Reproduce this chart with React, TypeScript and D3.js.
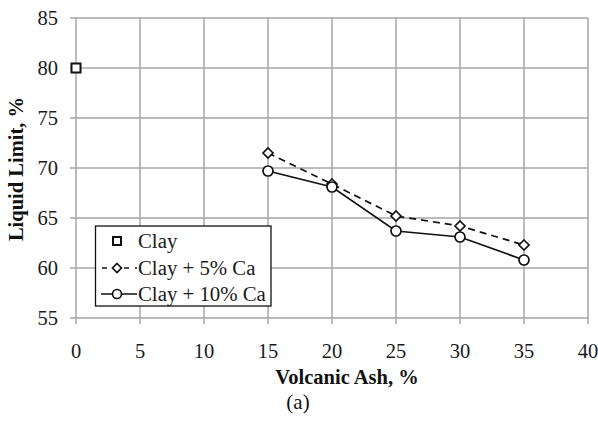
import React from "react";
import * as d3 from "d3";

const clayX = [0];
const clayY = [80];
const ash = [15, 20, 25, 30, 35];
const ca5 = [71.5, 68.4, 65.2, 64.2, 62.3];
const ca10 = [69.7, 68.1, 63.7, 63.1, 60.8];
const xTicks = [0, 5, 10, 15, 20, 25, 30, 35, 40];
const yTicks = [55, 60, 65, 70, 75, 80, 85];
const legendLabels = ["Clay", "Clay + 5% Ca", "Clay + 10% Ca"];

const W = 598, H = 424;
const FONT = "Liberation Serif";

export default function App() {
  const x = d3.scaleLinear().domain([0, 40]).range([76, 588]);
  const y = d3.scaleLinear().domain([55, 85]).range([318, 18]);
  const grid = "#a6a6a6";
  const line = d3.line<[number, number]>().x(d => x(d[0])).y(d => y(d[1]));
  const p5 = ash.map((a, i) => [a, ca5[i]] as [number, number]);
  const p10 = ash.map((a, i) => [a, ca10[i]] as [number, number]);
  const diamond = (cx: number, cy: number, r = 5) =>
    `M${cx},${cy - r}L${cx + r},${cy}L${cx},${cy + r}L${cx - r},${cy}Z`;

  const lx = 95.5, ly = 226, lw = 175.5, lh = 80;
  const rows = [241, 268, 294];

  return (
    <svg width={W} height={H} style={{ position: "absolute", left: 0, top: 0, background: "#fff" }}>
      <rect width={W} height={H} fill="#fff" />
      {yTicks.map(t => (
        <line key={"gy" + t} x1={70} x2={588} y1={y(t)} y2={y(t)} stroke={grid} strokeWidth={1.5} />
      ))}
      {xTicks.map(t => (
        <line key={"gx" + t} x1={x(t)} x2={x(t)} y1={y(85)} y2={324} stroke={grid} strokeWidth={1.5} />
      ))}
      {yTicks.map(t => (
        <text key={"ty" + t} x={58} y={y(t)} dy="0.35em" textAnchor="end" style={{ fontFamily: FONT }} fontSize={20.5} fill="#1a1a1a">{t}</text>
      ))}
      {xTicks.map(t => (
        <text key={"tx" + t} x={x(t)} y={351} dy="0.35em" textAnchor="middle" style={{ fontFamily: FONT }} fontSize={20.5} fill="#1a1a1a">{t}</text>
      ))}
      <path d={line(p5) || ""} fill="none" stroke="#111" strokeWidth={1.7} strokeDasharray="7,5" />
      <path d={line(p10) || ""} fill="none" stroke="#111" strokeWidth={1.7} />
      {p5.map((d, i) => (
        <path key={"d" + i} d={diamond(x(d[0]), y(d[1]))} fill="#fff" stroke="#111" strokeWidth={1.7} />
      ))}
      {p10.map((d, i) => (
        <circle key={"c" + i} cx={x(d[0])} cy={y(d[1])} r={5} fill="#fff" stroke="#111" strokeWidth={1.7} />
      ))}
      {clayX.map((v, i) => (
        <rect key={"s" + i} x={x(v) - 4.5} y={y(clayY[i]) - 4.5} width={9} height={9} fill="#fff" stroke="#111" strokeWidth={2} />
      ))}
      <rect x={lx} y={ly} width={lw} height={lh} fill="#fff" stroke="#111" strokeWidth={1.3} />
      <rect x={113} y={rows[0] - 4} width={8} height={8} fill="#fff" stroke="#111" strokeWidth={2} />
      <line x1={101} x2={137} y1={rows[1]} y2={rows[1]} stroke="#111" strokeWidth={1.7} strokeDasharray="5,6" strokeDashoffset={-1} />
      <path d={diamond(117, rows[1], 4.5)} fill="#fff" stroke="#111" strokeWidth={1.7} />
      <line x1={101} x2={137} y1={rows[2]} y2={rows[2]} stroke="#111" strokeWidth={1.7} />
      <circle cx={117} cy={rows[2]} r={4.5} fill="#fff" stroke="#111" strokeWidth={1.7} />
      {legendLabels.map((s, i) => (
        <text key={"l" + i} x={138} y={rows[i]} dy="0.35em" style={{ fontFamily: FONT }} fontSize={20.8} fill="#1a1a1a">{s}</text>
      ))}
      <text x={347} y={377} dy="0.35em" textAnchor="middle" style={{ fontFamily: FONT }} fontSize={20.5} fontWeight="bold" fill="#111">Volcanic Ash, %</text>
      <text transform={`translate(16,169) rotate(-90)`} dy="0.35em" textAnchor="middle" style={{ fontFamily: FONT }} fontSize={20.5} fontWeight="bold" fill="#111">Liquid Limit, %</text>
      <text x={298} y={402} dy="0.35em" textAnchor="middle" style={{ fontFamily: FONT }} fontSize={21} fill="#111">(a)</text>
    </svg>
  );
}
